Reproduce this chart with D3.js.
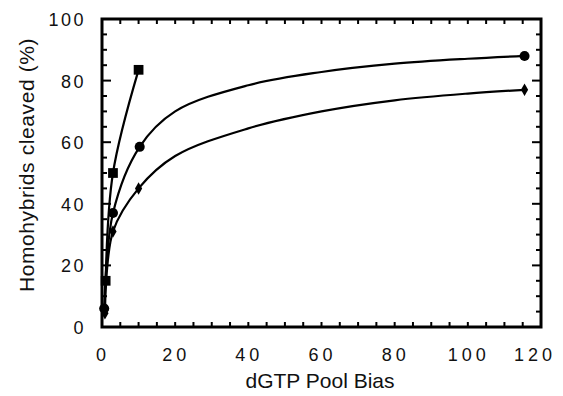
<!DOCTYPE html>
<html>
<head>
<meta charset="utf-8">
<script src="https://cdn.jsdelivr.net/npm/d3@7"></script>
<style>
  body { margin: 0; background: #fff; }
  text { font-family: "Liberation Sans", Arial, sans-serif; fill: #111; }
</style>
</head>
<body>
<div id="chart"></div>
<script>
// values
const xTicks = [0, 20, 40, 60, 80, 100, 120];
const yTicks = [0, 20, 40, 60, 80, 100];
const squareX = [1, 3, 10];
const squareY = [15, 50, 83.5];
const circleX = [0.6, 3, 10.3, 115.5];
const circleY = [6, 37, 58.5, 88];
const diamondX = [0.8, 3, 10, 115.5];
const diamondY = [4.5, 31, 45, 77];
// points
const circleCurveX = [0.6, 3, 10.3, 20, 40, 60, 80, 100, 115.5];
const circleCurveY = [6, 37, 58.5, 70, 78.5, 82.8, 85.5, 87.1, 88];
const diamondCurveX = [0.8, 3, 10, 20, 40, 60, 80, 100, 115.5];
const diamondCurveY = [4.5, 31, 45, 55.5, 64.5, 70, 73.6, 75.8, 77];
const squareCurveX = [1, 3, 10];
const squareCurveY = [15, 50, 83.5];

const margin = { top: 19, right: 22, bottom: 69, left: 102 };
const W = 563, H = 396;
const width = W - margin.left - margin.right;
const height = H - margin.top - margin.bottom;

const svg = d3.select("#chart").append("svg")
  .attr("width", W)
  .attr("height", H);

const g = svg.append("g")
  .attr("transform", "translate(" + margin.left + "," + margin.top + ")");

const x = d3.scaleLinear().domain([0, 120]).range([0, width]);
const y = d3.scaleLinear().domain([0, 100]).range([height, 0]);

// inward ticks on all four sides, minor every 5
const minor = d3.range(0, 121, 5);
const minorY = d3.range(0, 101, 5);
const tickLen = v => (v % 20 === 0 ? 9 : 5);

function sideTicks(vals, fn) {
  g.append("g").selectAll("line").data(vals).join("line")
    .each(fn)
    .attr("stroke", "#000")
    .attr("stroke-width", 2);
}
sideTicks(minor.slice(1, -1), function (d) {
  d3.select(this).attr("x1", x(d)).attr("x2", x(d)).attr("y1", height).attr("y2", height - 5);
});
sideTicks(minor.slice(1, -1), function (d) {
  d3.select(this).attr("x1", x(d)).attr("x2", x(d)).attr("y1", 0).attr("y2", 5);
});
sideTicks(minorY.slice(1, -1), function (d) {
  d3.select(this).attr("x1", 0).attr("x2", tickLen(d)).attr("y1", y(d)).attr("y2", y(d));
});
sideTicks(minorY.slice(1, -1), function (d) {
  d3.select(this).attr("x1", width).attr("x2", width - tickLen(d)).attr("y1", y(d)).attr("y2", y(d));
});

// frame
g.append("rect")
  .attr("width", width).attr("height", height)
  .attr("fill", "none").attr("stroke", "#000").attr("stroke-width", 3);

// tick labels
g.append("g").selectAll("text").data(xTicks).join("text")
  .attr("x", d => x(d) + (d === 120 ? -6 : 1))
  .attr("y", height + 34)
  .attr("text-anchor", "middle")
  .attr("font-size", 18)
  .attr("letter-spacing", 4)
  .text(d => d);

g.append("g").selectAll("text").data(yTicks).join("text")
  .attr("x", -16)
  .attr("y", d => y(d) + 7)
  .attr("text-anchor", "end")
  .attr("font-size", 18)
  .attr("letter-spacing", 2.5)
  .text(d => d);

// axis titles
svg.append("text")
  .attr("x", 320)
  .attr("y", 388)
  .attr("text-anchor", "middle")
  .attr("font-size", 21)
  .text("dGTP Pool Bias");

svg.append("text")
  .attr("transform", "translate(34,165) rotate(-90)")
  .attr("text-anchor", "middle")
  .attr("font-size", 21)
  .attr("letter-spacing", 0.6)
  .text("Homohybrids cleaved (%)");

// series
const line = d3.line()
  .x(d => x(d[0]))
  .y(d => y(d[1]))
  .curve(d3.curveCatmullRom.alpha(0.5));

const series = [
  { xs: squareX, ys: squareY, cx: squareCurveX, cy: squareCurveY, sym: d3.symbolSquare, size: 95 },
  { xs: circleX, ys: circleY, cx: circleCurveX, cy: circleCurveY, sym: d3.symbolCircle, size: 80 },
  { xs: diamondX, ys: diamondY, cx: diamondCurveX, cy: diamondCurveY, sym: d3.symbolDiamond, size: 45 }
];

series.forEach(s => {
  const curvePts = s.cx.map((v, i) => [v, s.cy[i]]);
  g.append("path")
    .datum(curvePts)
    .attr("fill", "none")
    .attr("stroke", "#000")
    .attr("stroke-width", 2.2)
    .attr("d", line);
  const pts = s.xs.map((v, i) => [v, s.ys[i]]);
  g.append("g").selectAll("path").data(pts).join("path")
    .attr("transform", d => "translate(" + x(d[0]) + "," + y(d[1]) + ")")
    .attr("d", d3.symbol().type(s.sym).size(s.size))
    .attr("fill", "#000");
});
</script>
</body>
</html>
